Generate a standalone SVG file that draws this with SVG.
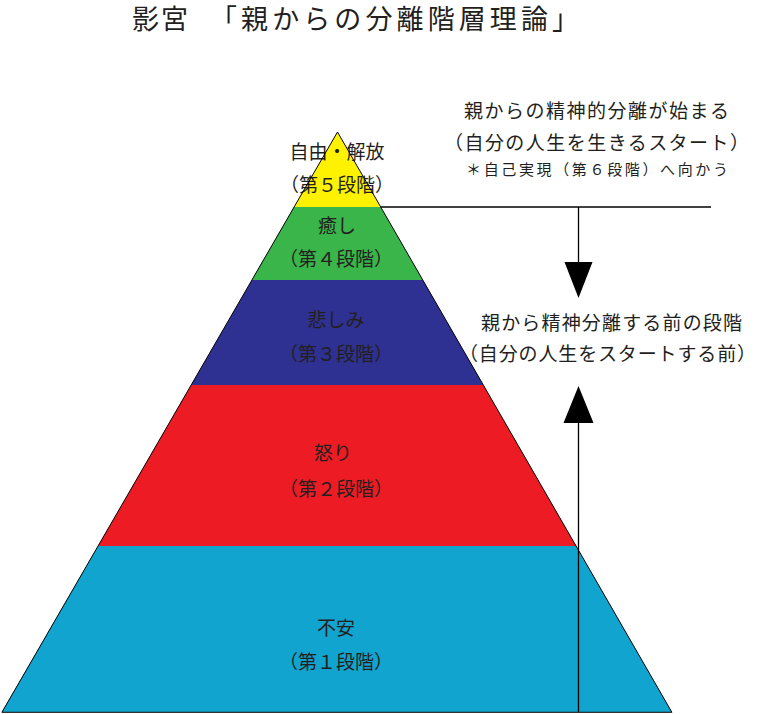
<svg xmlns="http://www.w3.org/2000/svg" width="758" height="714" viewBox="0 0 758 714">
<style>
text{font-family:"Noto Sans CJK JP","Noto Sans CJK SC",sans-serif;fill:#231f20}
.lbl{font-size:19px;text-anchor:middle}
.note{font-size:19px}
.ln{stroke:#000;stroke-width:1.3;fill:none}
.ah{fill:#000}
</style>
<rect width="758" height="714" fill="#fff"/>
<text x="132" y="29" style="font-size:27px" textLength="56" lengthAdjust="spacing">影宮</text>
<text x="210" y="29" style="font-size:27px" textLength="369" lengthAdjust="spacing">「親からの分離階層理論」</text>

<g id="layer5">
<polygon points="337.5,132 380.7,207 294.1,207" fill="#fff200"/>
<text class="lbl" x="337" y="159">自由・解放</text>
<text class="lbl" x="337" y="192">（第５段階）</text>
</g>
<g id="layer4">
<polygon points="294.1,207 380.7,207 422.8,280 251.9,280" fill="#39b54a"/>
<text class="lbl" x="337" y="233">癒し</text>
<text class="lbl" x="336" y="266">（第４段階）</text>
</g>
<g id="layer3">
<polygon points="251.9,280 422.8,280 483.4,385 191.1,385" fill="#2e3192"/>
<text class="lbl" x="336" y="327">悲しみ</text>
<text class="lbl" x="336" y="361">（第３段階）</text>
</g>
<g id="layer2">
<polygon points="191.1,385 483.4,385 576.2,546 98,546" fill="#ed1c24"/>
<text class="lbl" x="333" y="460">怒り</text>
<text class="lbl" x="336" y="496">（第２段階）</text>
</g>
<g id="layer1">
<polygon points="98,546 576.2,546 671.9,712 1.9,712" fill="#10a4cf"/>
<text class="lbl" x="336" y="635">不安</text>
<text class="lbl" x="336" y="669">（第１段階）</text>
</g>
<polygon points="337.5,132 671.9,712.3 1.9,712.3" fill="none" stroke="#000" stroke-width="1"/>

<g id="note-top">
<text class="note" x="464" y="118" textLength="265" lengthAdjust="spacing">親からの精神的分離が始まる</text>
<text class="note" x="444" y="150" textLength="305" lengthAdjust="spacing">（自分の人生を生きるスタート）</text>
<text x="466" y="175" style="font-size:15px" textLength="262" lengthAdjust="spacing">＊自己実現（第６段階）へ向かう</text>
</g>
<g id="note-mid">
<text class="note" x="481" y="330" textLength="261" lengthAdjust="spacing">親から精神分離する前の段階</text>
<text class="note" x="459" y="361" textLength="297" lengthAdjust="spacing">（自分の人生をスタートする前）</text>
</g>

<g id="connectors">
<line class="ln" x1="380.7" y1="207" x2="711" y2="207"/>
<line class="ln" x1="578.5" y1="207" x2="578.5" y2="263"/>
<polygon class="ah" points="564.5,262 592.5,262 578.5,298"/>
<line class="ln" x1="578.5" y1="422" x2="578.5" y2="712"/>
<polygon class="ah" points="563.5,423 593.5,423 578.5,386"/>
</g>
</svg>
